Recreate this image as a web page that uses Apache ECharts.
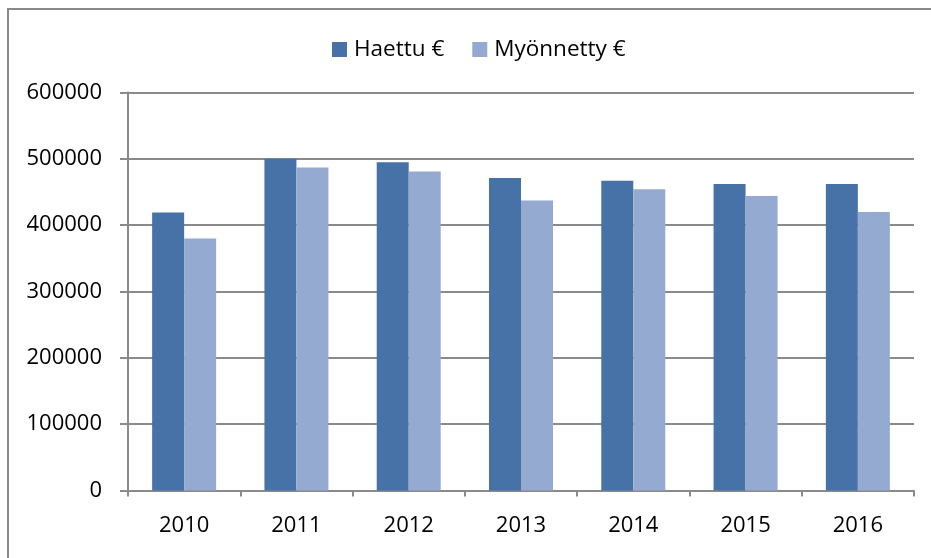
<!DOCTYPE html>
<html>
<head>
<meta charset="utf-8">
<script src="https://cdn.jsdelivr.net/npm/echarts@6/dist/echarts.min.js"></script>
<style>
  html, body { margin: 0; padding: 0; background: #fff; }
  #chart { width: 931px; height: 558px; }
</style>
</head>
<body>
<div id="chart"></div>
<script>
// vuodet ja summat
var years = ['2010', '2011', '2012', '2013', '2014', '2015', '2016']
var haettu = [419000, 500000, 495000, 471000, 467000, 462000, 462000]
var myonnetty = [380000, 487000, 481000, 437000, 454000, 444000, 420000]
var yTicks = [0, 600000, 100000] // min, max, interval

var FONT = '"Open Sans", "Liberation Sans", sans-serif'
var GRAY = '#8a8a8a'

var chart = echarts.init(document.getElementById('chart'))
chart.setOption({
  animation: false,
  textStyle: { fontFamily: FONT },
  // kehys
  graphic: [{
    type: 'rect',
    shape: { x: 8, y: 9, width: 1000, height: 700 },
    style: { fill: 'none', stroke: GRAY, lineWidth: 2 },
    silent: true
  }],
  legend: {
    top: 33,
    left: 327,
    itemWidth: 15,
    itemHeight: 15,
    itemGap: 28,
    icon: 'rect',
    textStyle: { fontSize: 22.5, color: '#000', fontFamily: FONT, padding: [0, 0, 0, 2] },
    data: ['Haettu €', 'Myönnetty €']
  },
  grid: {
    left: 128,
    right: 17,
    top: 92.5,
    bottom: 67.5,
    containLabel: false
  },
  xAxis: {
    type: 'category',
    data: years,
    axisLine: { lineStyle: { color: GRAY, width: 2 } },
    axisTick: { show: true, length: 6, lineStyle: { color: GRAY, width: 2 } },
    axisLabel: { fontSize: 22, color: '#000', margin: 24, fontFamily: FONT }
  },
  yAxis: {
    type: 'value',
    min: yTicks[0],
    max: yTicks[1],
    interval: yTicks[2],
    axisLine: { show: true, lineStyle: { color: GRAY, width: 2 } },
    axisTick: { show: true, inside: false, length: 8, lineStyle: { color: GRAY, width: 2 } },
    axisLabel: {
      fontSize: 22,
      color: '#000',
      margin: 26,
      fontFamily: FONT,
      formatter: function (v) { return String(v) }
    },
    splitLine: { show: true, lineStyle: { color: GRAY, width: 2 } }
  },
  series: [
    {
      name: 'Haettu €',
      type: 'bar',
      data: haettu,
      barWidth: 32,
      barGap: '0%',
      itemStyle: { color: '#4672A8' }
    },
    {
      name: 'Myönnetty €',
      type: 'bar',
      data: myonnetty,
      barWidth: 32,
      barGap: '0%',
      itemStyle: { color: '#95AAD1' }
    }
  ]
})
</script>
</body>
</html>
